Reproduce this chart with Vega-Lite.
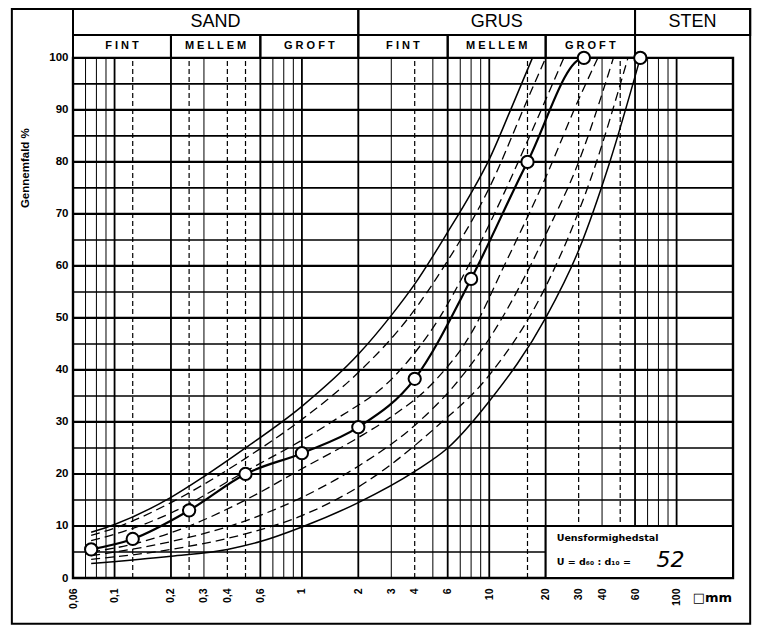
{
  "$schema": "https://vega.github.io/schema/vega-lite/v6.json",
  "width": 660,
  "height": 569,
  "autosize": {"type": "none"},
  "padding": {"left": 73, "top": 9, "right": 25, "bottom": 48},
  "background": "white",
  "config": {"view": {"stroke": null}, "font": "Liberation Sans"},
  "resolve": {"axis": {"x": "independent", "y": "independent"}},
  "datasets": {
    "frame": [{"x1": 0.0283, "x2": 247, "y1": -8.8, "y2": 109.4}],
    "plotbox": [{"x1": 0.06, "x2": 200, "y1": 0, "y2": 100}],
    "hgrid10": [{"pct": 10}, {"pct": 20}, {"pct": 30}, {"pct": 40}, {"pct": 50}, {"pct": 60}, {"pct": 70}, {"pct": 80}, {"pct": 90}],
    "hgrid5": [{"pct": 5}, {"pct": 15}, {"pct": 25}, {"pct": 35}, {"pct": 45}, {"pct": 55}, {"pct": 65}, {"pct": 75}, {"pct": 85}, {"pct": 95}],
    "vmajor": [{"mm": 0.1}, {"mm": 0.2}, {"mm": 0.6}, {"mm": 1}, {"mm": 2}, {"mm": 6}, {"mm": 10}, {"mm": 20}, {"mm": 60}, {"mm": 100}],
    "vminor": [{"mm": 0.07}, {"mm": 0.08}, {"mm": 0.09}, {"mm": 0.3}, {"mm": 0.7}, {"mm": 0.8}, {"mm": 0.9}, {"mm": 3}, {"mm": 5}, {"mm": 7}, {"mm": 8}, {"mm": 9}, {"mm": 40}, {"mm": 70}, {"mm": 80}, {"mm": 90}],
    "vdash": [{"mm": 0.125}, {"mm": 0.25}, {"mm": 0.4}, {"mm": 0.5}, {"mm": 4}, {"mm": 16}, {"mm": 30}, {"mm": 50}],
    "header": [
      {"label": "SAND", "x1": 0.06, "x2": 2, "y1": 104.4, "y2": 109.4, "xc": 0.346, "yc": 106.9, "row": "top"},
      {"label": "GRUS", "x1": 2, "x2": 60, "y1": 104.4, "y2": 109.4, "xc": 10.95, "yc": 106.9, "row": "top"},
      {"label": "STEN", "x1": 60, "x2": 247, "y1": 104.4, "y2": 109.4, "xc": 121.7, "yc": 106.9, "row": "top"},
      {"label": "F I N T", "x1": 0.06, "x2": 0.2, "y1": 100, "y2": 104.4, "xc": 0.1095, "yc": 102.2, "row": "sub"},
      {"label": "M E L L E M", "x1": 0.2, "x2": 0.6, "y1": 100, "y2": 104.4, "xc": 0.346, "yc": 102.2, "row": "sub"},
      {"label": "G R O F T", "x1": 0.6, "x2": 2, "y1": 100, "y2": 104.4, "xc": 1.095, "yc": 102.2, "row": "sub"},
      {"label": "F I N T", "x1": 2, "x2": 6, "y1": 100, "y2": 104.4, "xc": 3.46, "yc": 102.2, "row": "sub"},
      {"label": "M E L L E M", "x1": 6, "x2": 20, "y1": 100, "y2": 104.4, "xc": 10.95, "yc": 102.2, "row": "sub"},
      {"label": "G R O F T", "x1": 20, "x2": 60, "y1": 100, "y2": 104.4, "xc": 34.6, "yc": 102.2, "row": "sub"}
    ],
    "envelope": [
      {"curve": "S1", "mm": 0.075, "pct": 8.8}, {"curve": "S1", "mm": 0.1, "pct": 10.3}, {"curve": "S1", "mm": 0.2, "pct": 15.5}, {"curve": "S1", "mm": 0.3, "pct": 19.5}, {"curve": "S1", "mm": 0.5, "pct": 25}, {"curve": "S1", "mm": 1, "pct": 33}, {"curve": "S1", "mm": 2, "pct": 43}, {"curve": "S1", "mm": 3, "pct": 50.5}, {"curve": "S1", "mm": 4, "pct": 56.5}, {"curve": "S1", "mm": 6, "pct": 66.5}, {"curve": "S1", "mm": 8, "pct": 74}, {"curve": "S1", "mm": 10, "pct": 80.5}, {"curve": "S1", "mm": 13, "pct": 90}, {"curve": "S1", "mm": 17, "pct": 100},
      {"curve": "S2", "mm": 0.075, "pct": 2.8}, {"curve": "S2", "mm": 0.2, "pct": 4.2}, {"curve": "S2", "mm": 0.4, "pct": 5.5}, {"curve": "S2", "mm": 0.6, "pct": 7}, {"curve": "S2", "mm": 1, "pct": 9.8}, {"curve": "S2", "mm": 2, "pct": 14.5}, {"curve": "S2", "mm": 4, "pct": 20.5}, {"curve": "S2", "mm": 6, "pct": 25}, {"curve": "S2", "mm": 10, "pct": 34}, {"curve": "S2", "mm": 20, "pct": 50}, {"curve": "S2", "mm": 30, "pct": 63}, {"curve": "S2", "mm": 44, "pct": 80}, {"curve": "S2", "mm": 64, "pct": 100}
    ],
    "dashed": [
      {"curve": "Da", "mm": 0.075, "pct": 8.2}, {"curve": "Da", "mm": 0.1, "pct": 9.6}, {"curve": "Da", "mm": 0.2, "pct": 14.5}, {"curve": "Da", "mm": 0.5, "pct": 23}, {"curve": "Da", "mm": 1, "pct": 30.5}, {"curve": "Da", "mm": 2, "pct": 39.5}, {"curve": "Da", "mm": 3.7, "pct": 50}, {"curve": "Da", "mm": 6, "pct": 61}, {"curve": "Da", "mm": 10, "pct": 75}, {"curve": "Da", "mm": 16, "pct": 92}, {"curve": "Da", "mm": 20, "pct": 100},
      {"curve": "Db", "mm": 0.075, "pct": 7.2}, {"curve": "Db", "mm": 0.1, "pct": 8.4}, {"curve": "Db", "mm": 0.2, "pct": 12.5}, {"curve": "Db", "mm": 0.5, "pct": 20.5}, {"curve": "Db", "mm": 1, "pct": 26.5}, {"curve": "Db", "mm": 1.5, "pct": 30.4}, {"curve": "Db", "mm": 3.1, "pct": 38.7}, {"curve": "Db", "mm": 5.2, "pct": 49}, {"curve": "Db", "mm": 8, "pct": 61}, {"curve": "Db", "mm": 12, "pct": 74}, {"curve": "Db", "mm": 16, "pct": 84}, {"curve": "Db", "mm": 25, "pct": 100},
      {"curve": "Dc", "mm": 0.075, "pct": 5}, {"curve": "Dc", "mm": 0.125, "pct": 6.5}, {"curve": "Dc", "mm": 0.25, "pct": 10}, {"curve": "Dc", "mm": 0.5, "pct": 15}, {"curve": "Dc", "mm": 1, "pct": 21}, {"curve": "Dc", "mm": 2, "pct": 27}, {"curve": "Dc", "mm": 3, "pct": 31}, {"curve": "Dc", "mm": 5, "pct": 37.5}, {"curve": "Dc", "mm": 8, "pct": 47}, {"curve": "Dc", "mm": 12, "pct": 60}, {"curve": "Dc", "mm": 20, "pct": 77}, {"curve": "Dc", "mm": 30, "pct": 92}, {"curve": "Dc", "mm": 38, "pct": 100},
      {"curve": "Dd", "mm": 0.075, "pct": 4.3}, {"curve": "Dd", "mm": 0.2, "pct": 7}, {"curve": "Dd", "mm": 0.5, "pct": 11}, {"curve": "Dd", "mm": 1, "pct": 15.5}, {"curve": "Dd", "mm": 2, "pct": 21.5}, {"curve": "Dd", "mm": 3.9, "pct": 29}, {"curve": "Dd", "mm": 6.5, "pct": 37}, {"curve": "Dd", "mm": 10, "pct": 46}, {"curve": "Dd", "mm": 20, "pct": 66}, {"curve": "Dd", "mm": 30, "pct": 80}, {"curve": "Dd", "mm": 46, "pct": 100},
      {"curve": "De", "mm": 0.075, "pct": 3.6}, {"curve": "De", "mm": 0.2, "pct": 5.5}, {"curve": "De", "mm": 0.5, "pct": 8.5}, {"curve": "De", "mm": 1, "pct": 12}, {"curve": "De", "mm": 2, "pct": 17.5}, {"curve": "De", "mm": 5.2, "pct": 29}, {"curve": "De", "mm": 10, "pct": 39}, {"curve": "De", "mm": 20, "pct": 56}, {"curve": "De", "mm": 35, "pct": 77}, {"curve": "De", "mm": 55, "pct": 100}
    ],
    "sample": [
      {"mm": 0.075, "pct": 5.5}, {"mm": 0.125, "pct": 7.5}, {"mm": 0.25, "pct": 13}, {"mm": 0.5, "pct": 20}, {"mm": 1, "pct": 24}, {"mm": 2, "pct": 29}, {"mm": 4, "pct": 38.3}, {"mm": 8, "pct": 57.5}, {"mm": 16, "pct": 80}, {"mm": 32, "pct": 100}, {"mm": 64, "pct": 100}
    ],
    "legendbox": [{"x1": 20, "x2": 200, "y1": 0, "y2": 10}],
    "legendtext": [
      {"t": "Uensformighedstal", "mm": 22.9, "pct": 7.7},
      {"t": "U = d₆₀ : d₁₀ =", "mm": 22.9, "pct": 3.0}
    ],
    "uvalue": [{"t": "52", "mm": 78, "pct": 3.4}],
    "ytitle": [{"t": "Gennemfald %", "mm": 0.0335, "pct": 78.8}],
    "unit": [{"t": "□mm", "mm": 122, "pct": -3.9}]
  },
  "layer": [
    {
      "data": {"name": "frame"},
      "mark": {"type": "rect", "fillOpacity": 0, "stroke": "black", "strokeWidth": 2},
      "encoding": {
        "x": {"field": "x1", "type": "quantitative", "scale": {"type": "log", "domain": [0.06, 200], "nice": false}, "axis": null},
        "x2": {"field": "x2"},
        "y": {"field": "y1", "type": "quantitative", "scale": {"domain": [0, 109.4], "nice": false, "zero": false}, "axis": null},
        "y2": {"field": "y2"}
      }
    },
    {
      "data": {"name": "vmajor"},
      "mark": {"type": "rule", "stroke": "black", "strokeWidth": 1.8},
      "encoding": {
        "x": {"field": "mm", "type": "quantitative", "scale": {"type": "log", "domain": [0.06, 200], "nice": false},
          "axis": {"values": [0.06, 0.1, 0.2, 0.3, 0.4, 0.6, 1, 2, 3, 4, 6, 10, 20, 30, 40, 60, 100],
            "labelExpr": "replace('' + datum.value, '.', ',')", "labelAngle": 270, "labelAlign": "right", "labelBaseline": "middle",
            "labelPadding": 10, "labelFont": "Liberation Sans", "labelFontWeight": "bold", "labelFontSize": 10.5, "labelColor": "black",
            "ticks": false, "domain": false, "grid": false, "title": null, "labelOverlap": false, "labelFlush": false}},
        "y": {"datum": 0, "type": "quantitative", "scale": {"domain": [0, 109.4], "nice": false, "zero": false},
          "axis": {"values": [0, 10, 20, 30, 40, 50, 60, 70, 80, 90, 100], "labelFont": "Liberation Sans", "labelFontWeight": "bold", "labelFontSize": 11.5,
            "labelColor": "black", "labelPadding": 5, "ticks": false, "domain": false, "grid": false, "title": null}},
        "y2": {"datum": 100}
      }
    },
    {
      "data": {"name": "vminor"},
      "mark": {"type": "rule", "stroke": "black", "strokeWidth": 1},
      "encoding": {
        "x": {"field": "mm", "type": "quantitative", "scale": {"type": "log", "domain": [0.06, 200], "nice": false}, "axis": null},
        "y": {"datum": 0, "type": "quantitative", "axis": null},
        "y2": {"datum": 100}
      }
    },
    {
      "data": {"name": "vdash"},
      "mark": {"type": "rule", "stroke": "black", "strokeWidth": 1.2, "strokeDash": [5, 3]},
      "encoding": {
        "x": {"field": "mm", "type": "quantitative", "scale": {"type": "log", "domain": [0.06, 200], "nice": false}, "axis": null},
        "y": {"datum": 0, "type": "quantitative", "axis": null},
        "y2": {"datum": 100}
      }
    },
    {
      "data": {"name": "hgrid10"},
      "mark": {"type": "rule", "stroke": "black", "strokeWidth": 2.2},
      "encoding": {
        "y": {"field": "pct", "type": "quantitative", "axis": null},
        "x": {"datum": 0.06, "type": "quantitative", "axis": null},
        "x2": {"datum": 200}
      }
    },
    {
      "data": {"name": "hgrid5"},
      "mark": {"type": "rule", "stroke": "black", "strokeWidth": 1.6},
      "encoding": {
        "y": {"field": "pct", "type": "quantitative", "axis": null},
        "x": {"datum": 0.06, "type": "quantitative", "axis": null},
        "x2": {"datum": 200}
      }
    },
    {
      "data": {"name": "header"},
      "mark": {"type": "rect", "fillOpacity": 0, "stroke": "black", "strokeWidth": 2},
      "encoding": {
        "x": {"field": "x1", "type": "quantitative", "axis": null},
        "x2": {"field": "x2"},
        "y": {"field": "y1", "type": "quantitative", "axis": null},
        "y2": {"field": "y2"}
      }
    },
    {
      "data": {"name": "plotbox"},
      "mark": {"type": "rect", "fillOpacity": 0, "stroke": "black", "strokeWidth": 2.4},
      "encoding": {
        "x": {"field": "x1", "type": "quantitative", "axis": null},
        "x2": {"field": "x2"},
        "y": {"field": "y1", "type": "quantitative", "axis": null},
        "y2": {"field": "y2"}
      }
    },
    {
      "data": {"name": "header"},
      "transform": [{"filter": "datum.row == 'top'"}],
      "mark": {"type": "text", "font": "Liberation Sans", "fontSize": 18, "fontWeight": "normal", "align": "center", "baseline": "middle", "color": "black"},
      "encoding": {
        "x": {"field": "xc", "type": "quantitative", "axis": null},
        "y": {"field": "yc", "type": "quantitative", "axis": null},
        "text": {"field": "label"}
      }
    },
    {
      "data": {"name": "header"},
      "transform": [{"filter": "datum.row == 'sub'"}],
      "mark": {"type": "text", "font": "Liberation Sans", "fontSize": 11, "fontWeight": "bold", "align": "center", "baseline": "middle", "color": "black"},
      "encoding": {
        "x": {"field": "xc", "type": "quantitative", "axis": null},
        "y": {"field": "yc", "type": "quantitative", "axis": null},
        "text": {"field": "label"}
      }
    },
    {
      "data": {"name": "dashed"},
      "mark": {"type": "line", "interpolate": "monotone", "stroke": "black", "strokeWidth": 1.3, "strokeDash": [9, 5]},
      "encoding": {
        "x": {"field": "mm", "type": "quantitative", "axis": null},
        "y": {"field": "pct", "type": "quantitative", "axis": null},
        "detail": {"field": "curve"},
        "order": {"field": "mm", "type": "quantitative"}
      }
    },
    {
      "data": {"name": "envelope"},
      "mark": {"type": "line", "interpolate": "monotone", "stroke": "black", "strokeWidth": 1.5},
      "encoding": {
        "x": {"field": "mm", "type": "quantitative", "axis": null},
        "y": {"field": "pct", "type": "quantitative", "axis": null},
        "detail": {"field": "curve"},
        "order": {"field": "mm", "type": "quantitative"}
      }
    },
    {
      "data": {"name": "sample"},
      "mark": {"type": "line", "interpolate": "monotone", "stroke": "black", "strokeWidth": 2.2},
      "encoding": {
        "x": {"field": "mm", "type": "quantitative", "axis": null},
        "y": {"field": "pct", "type": "quantitative", "axis": null},
        "order": {"field": "mm", "type": "quantitative"}
      }
    },
    {
      "data": {"name": "sample"},
      "mark": {"type": "point", "shape": "circle", "size": 150, "filled": false, "fill": "white", "fillOpacity": 1, "stroke": "black", "strokeWidth": 2, "opacity": 1},
      "encoding": {
        "x": {"field": "mm", "type": "quantitative", "axis": null},
        "y": {"field": "pct", "type": "quantitative", "axis": null}
      }
    },
    {
      "data": {"name": "legendbox"},
      "mark": {"type": "rect", "fill": "white", "stroke": "black", "strokeWidth": 2},
      "encoding": {
        "x": {"field": "x1", "type": "quantitative", "axis": null},
        "x2": {"field": "x2"},
        "y": {"field": "y1", "type": "quantitative", "axis": null},
        "y2": {"field": "y2"}
      }
    },
    {
      "data": {"name": "legendtext"},
      "mark": {"type": "text", "font": "DejaVu Sans", "fontSize": 9.5, "fontWeight": "bold", "align": "left", "baseline": "middle", "color": "black"},
      "encoding": {
        "x": {"field": "mm", "type": "quantitative", "axis": null},
        "y": {"field": "pct", "type": "quantitative", "axis": null},
        "text": {"field": "t"}
      }
    },
    {
      "data": {"name": "uvalue"},
      "mark": {"type": "text", "font": "DejaVu Sans", "fontSize": 22, "fontStyle": "italic", "align": "left", "baseline": "middle", "color": "black"},
      "encoding": {
        "x": {"field": "mm", "type": "quantitative", "axis": null},
        "y": {"field": "pct", "type": "quantitative", "axis": null},
        "text": {"field": "t"}
      }
    },
    {
      "data": {"name": "ytitle"},
      "mark": {"type": "text", "font": "Liberation Sans", "fontSize": 11.5, "fontWeight": "bold", "angle": 270, "align": "center", "baseline": "middle", "color": "black"},
      "encoding": {
        "x": {"field": "mm", "type": "quantitative", "axis": null},
        "y": {"field": "pct", "type": "quantitative", "axis": null},
        "text": {"field": "t"}
      }
    },
    {
      "data": {"name": "unit"},
      "mark": {"type": "text", "font": "DejaVu Sans", "fontSize": 13, "fontWeight": "bold", "align": "left", "baseline": "middle", "color": "black"},
      "encoding": {
        "x": {"field": "mm", "type": "quantitative", "axis": null},
        "y": {"field": "pct", "type": "quantitative", "axis": null},
        "text": {"field": "t"}
      }
    }
  ]
}
